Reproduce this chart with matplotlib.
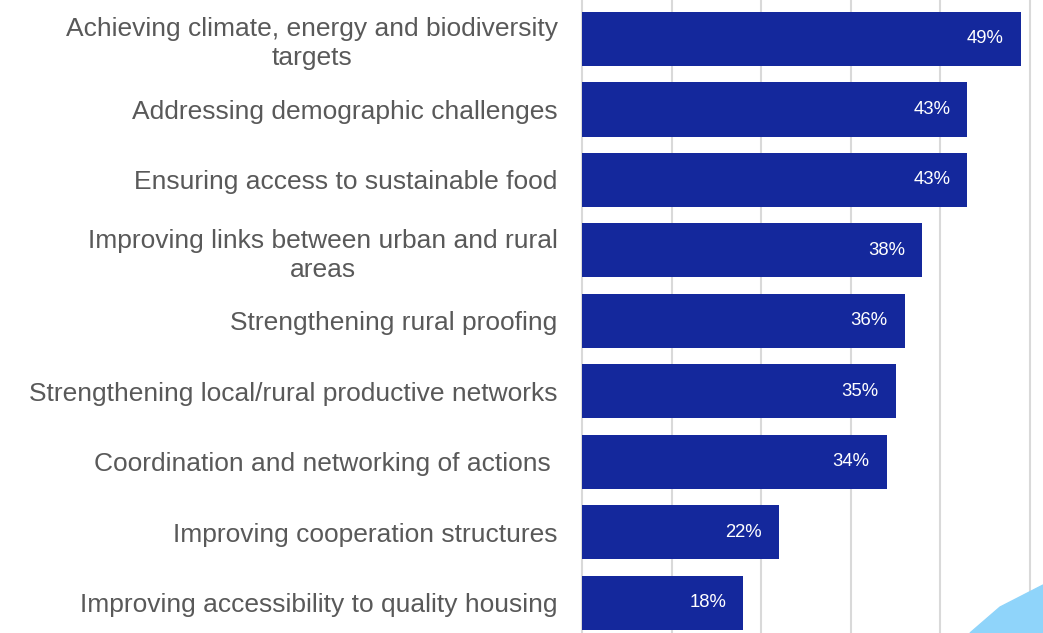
import matplotlib.pyplot as plt
import numpy as np
from matplotlib.patches import Polygon

plt.rcParams['font.family'] = ['Liberation Sans', 'DejaVu Sans']

# Data
categories = [
    "Achieving climate, energy and biodiversity\ntargets",
    "Addressing demographic challenges",
    "Ensuring access to sustainable food",
    "Improving links between urban and rural\nareas",
    "Strengthening rural proofing",
    "Strengthening local/rural productive networks",
    "Coordination and networking of actions ",
    "Improving cooperation structures",
    "Improving accessibility to quality housing",
]
values = [49, 43, 43, 38, 36, 35, 34, 22, 18]

bar_color = '#14289c'
grid_color = '#d9d9d9'
text_color = '#595959'

fig = plt.figure(figsize=(10.43, 6.33), dpi=100)
ax = fig.add_axes([0.558, 0.0, 0.4295, 1.0])

y = np.arange(len(categories))
ax.barh(y, values, height=0.77, color=bar_color, zorder=3)

ax.set_xlim(0, 50)
ax.set_ylim(8.43, -0.553)
ax.set_xticks(np.arange(0, 51, 10))
ax.xaxis.grid(True, color=grid_color, linewidth=1.5, zorder=0)
for gl in ax.get_xgridlines():
    gl.set_clip_on(False)
ax.tick_params(axis='x', length=0, labelbottom=False)
ax.tick_params(axis='y', length=0, pad=17.5)
for s in ax.spines.values():
    s.set_visible(False)

ax.set_yticks(y)
ax.set_yticklabels(categories, fontsize=19, color=text_color, multialignment='center',
                   linespacing=1.26)

for yi, v in zip(y, values):
    ax.text(v - 1.9, yi, f"{v}%", ha='right', va='center', color='white', fontsize=13.3, zorder=4)

# decorative light blue corner shape
corner = Polygon([(0.930, 0.0), (0.9588, 0.041), (1.0, 0.0758), (1.0, 0.0)],
                 closed=True, transform=fig.transFigure, color='#8fd4fa', zorder=5)
fig.patches.append(corner)

fig.savefig('out.png', dpi=100)
